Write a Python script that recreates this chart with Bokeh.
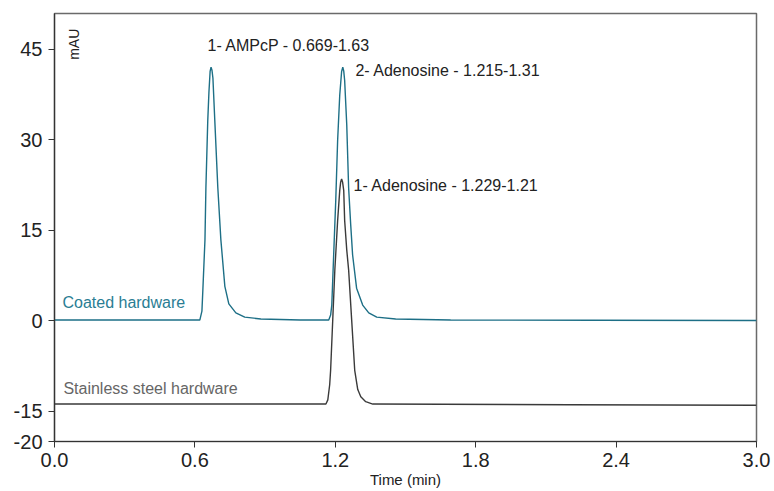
from bokeh.plotting import figure
from bokeh.models import Range1d, FixedTicker, Label, NumeralTickFormatter
from bokeh.embed import file_html
from bokeh.resources import INLINE
import math

# --- data ---
coated_time = [0.0, 0.621, 0.630, 0.634, 0.643, 0.647, 0.655, 0.660, 0.665, 0.669, 0.673, 0.677,
               0.685, 0.698, 0.711, 0.728, 0.745, 0.775, 0.813, 0.882, 1.05, 1.172,
               1.180, 1.185, 1.193, 1.202, 1.210, 1.219, 1.227, 1.232, 1.236, 1.240, 1.249, 1.257,
               1.266, 1.274, 1.291, 1.317, 1.343, 1.377, 1.458, 1.693, 2.3, 3.0]
coated_mau = [0.12, 0.12, 1.6, 5.1, 13.4, 22.0, 33.2, 37.9, 41.3, 42.0, 41.5, 40.2,
              33.2, 22.0, 13.4, 5.7, 2.8, 1.3, 0.6, 0.3, 0.12, 0.12,
              0.94, 2.6, 10.9, 20.0, 29.9, 37.4, 41.3, 42.0, 41.4, 39.8, 32.4, 22.0,
              15.8, 10.9, 5.4, 2.6, 1.3, 0.6, 0.3, 0.12, 0.08, 0.05]

steel_time = [0.0, 0.6, 1.160, 1.168, 1.176, 1.180, 1.189, 1.198, 1.210, 1.219, 1.223,
              1.227, 1.231, 1.236, 1.240, 1.249, 1.257, 1.270, 1.283, 1.296, 1.309, 1.330,
              1.360, 2.2, 3.0]
steel_mau = [-13.8, -13.8, -13.8, -13.1, -10.6, -8.2, 0.1, 8.4, 16.6, 21.6, 23.0,
             23.5, 23.0, 21.6, 16.6, 11.7, 8.4, 0.1, -8.2, -11.4, -12.6, -13.4,
             -13.8, -13.9, -14.0]

x_ticks = [0.0, 0.6, 1.2, 1.8, 2.4, 3.0]
y_ticks = [-20, -15, 0, 15, 30, 45]
y_tick_labels = ["-20", "-15", "0", "15", "30", "45"]

peak_labels = ["1- AMPcP - 0.669-1.63", "2- Adenosine - 1.215-1.31", "1- Adenosine - 1.229-1.21"]
peak_label_x = [0.654, 1.286, 1.278]
peak_label_y = [45.6, 41.5, 22.4]

series_names = ["Coated hardware", "Stainless steel hardware"]
series_label_x = [0.034, 0.038]
series_label_y = [3.1, -11.2]

COATED = "#1d6f86"
STEEL = "#3a3a3a"
FONT = "Liberation Sans"

p = figure(width=774, height=491, output_backend="svg", toolbar_location=None,
           x_range=Range1d(0, 3.0), y_range=Range1d(-20, 50.9),
           min_border_left=54, min_border_right=18, min_border_top=13, min_border_bottom=50)
p.background_fill_color = "white"
p.border_fill_color = "white"
p.xgrid.visible = False
p.ygrid.visible = False
p.outline_line_color = "#6a6a6a"
p.outline_line_width = 1.5

p.xaxis.ticker = FixedTicker(ticks=x_ticks)
p.xaxis.formatter = NumeralTickFormatter(format="0.0")
p.yaxis.ticker = FixedTicker(ticks=y_ticks)
p.yaxis.major_label_overrides = {t: s for t, s in zip(y_ticks, y_tick_labels)}
for ax in (p.xaxis, p.yaxis):
    ax.major_label_text_font = FONT
    ax.major_label_text_font_size = "20px"
    ax.major_label_text_color = "#222222"
    ax.axis_line_color = "#333333"
    ax.axis_line_width = 1.2
    ax.major_tick_line_color = "#333333"
    ax.major_tick_out = 6
    ax.major_tick_in = 0
    ax.minor_tick_line_color = None
p.xaxis.major_label_standoff = 5
p.yaxis.major_label_standoff = 6
p.xaxis.axis_label = "Time (min)"
p.xaxis.axis_label_text_font = FONT
p.xaxis.axis_label_text_font_style = "normal"
p.xaxis.axis_label_text_font_size = "15px"
p.xaxis.axis_label_text_color = "#222222"
p.xaxis.axis_label_standoff = 1

p.line(coated_time, coated_mau, line_color=COATED, line_width=1.4)
p.line(steel_time, steel_mau, line_color=STEEL, line_width=1.4)

for t, x, y in zip(peak_labels, peak_label_x, peak_label_y):
    p.add_layout(Label(x=x, y=y, text=t, text_font=FONT, text_font_size="16px",
                       text_color="#222222", text_baseline="middle", text_align="left"))

for t, x, y, c in zip(series_names, series_label_x, series_label_y, ["#2a7d93", "#666666"]):
    p.add_layout(Label(x=x, y=y, text=t, text_font=FONT, text_font_size="16px",
                       text_color=c, text_baseline="middle", text_align="left"))

p.add_layout(Label(x=0.085, y=45.8, text="mAU", angle=math.pi / 2, text_font=FONT,
                   text_font_size="14px", text_color="#222222",
                   text_baseline="middle", text_align="center"))

open("out.html", "w").write(file_html(p, INLINE))
